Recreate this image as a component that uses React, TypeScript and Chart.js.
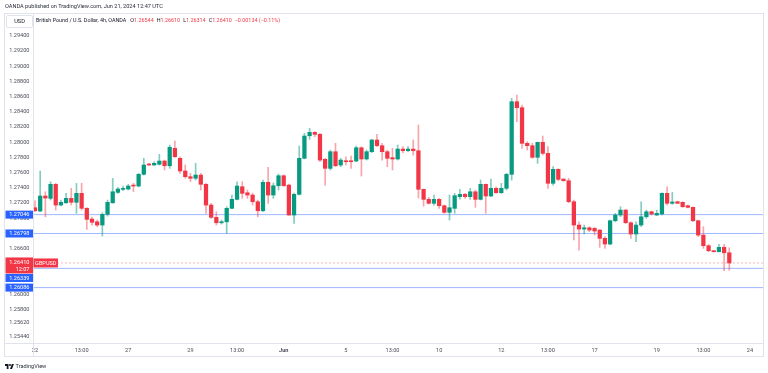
import React, { useEffect, useRef } from "react";
import { Chart, registerables } from "chart.js";
Chart.register(...registerables);

// ---- data (GBPUSD 4h, OANDA) ----
const OPEN = [
  1.27137, 1.27093, 1.27291, 1.2726, 1.27445, 1.27172, 1.27202, 1.2726, 1.27208, 1.27326,
  1.27129, 1.26988, 1.26952, 1.26909, 1.2705, 1.27202, 1.27339, 1.27379, 1.27383, 1.27435,
  1.27422, 1.27576, 1.27708, 1.27699, 1.27708, 1.27751, 1.27689, 1.27918, 1.27787, 1.2762,
  1.27545, 1.27524, 1.27567, 1.27445, 1.27172, 1.2701, 1.26939, 1.26952, 1.27129, 1.27247,
  1.27413, 1.27334, 1.27304, 1.27216, 1.27097, 1.27471, 1.27304, 1.27426, 1.27558, 1.27435,
  1.27041, 1.27313, 1.27787, 1.28084, 1.28129, 1.28102, 1.27774, 1.27655, 1.27874, 1.27699,
  1.27755, 1.27755, 1.27751, 1.27926, 1.27778, 1.27874, 1.28028, 1.27953, 1.27874, 1.27795,
  1.27778, 1.27909, 1.27887, 1.27909, 1.27887, 1.27379, 1.27247, 1.27195, 1.27247, 1.27163,
  1.27076, 1.27129, 1.27282, 1.27313, 1.27282, 1.27347, 1.27247, 1.27445, 1.27291, 1.27392,
  1.27334, 1.27392, 1.27576, 1.28532, 1.28453, 1.27984, 1.27953, 1.278, 1.27997, 1.27852,
  1.27458, 1.27642, 1.27514, 1.27492, 1.27216, 1.26909, 1.26856, 1.26873, 1.26865, 1.26843,
  1.26734, 1.26659, 1.26966, 1.27041, 1.27106, 1.26939, 1.26791, 1.26909, 1.27018, 1.27084,
  1.27041, 1.27054, 1.27326, 1.27195, 1.27216, 1.27208, 1.27163, 1.27142, 1.26966, 1.26777,
  1.26637, 1.26571, 1.26558, 1.26616, 1.26544,
];
const HIGH = [
  1.27229, 1.2762, 1.27347, 1.27479, 1.27458, 1.27238, 1.27326, 1.27392, 1.27458, 1.27458,
  1.2714, 1.27014, 1.26975, 1.27071, 1.27238, 1.27524, 1.27405, 1.27422, 1.27445, 1.27458,
  1.27589, 1.27787, 1.27721, 1.27742, 1.27839, 1.27764, 1.27962, 1.28014, 1.27808, 1.27699,
  1.27589, 1.27721, 1.27589, 1.27458, 1.27195, 1.27084, 1.26975, 1.2715, 1.27304, 1.27479,
  1.27479, 1.2737, 1.2733, 1.27238, 1.27501, 1.27668, 1.27462, 1.2758, 1.27567, 1.27449,
  1.2733, 1.27949, 1.28116, 1.28182, 1.28137, 1.28116, 1.27787, 1.27896, 1.27984, 1.27787,
  1.27808, 1.27817, 1.27949, 1.2794, 1.27896, 1.28037, 1.28102, 1.27984, 1.27896, 1.27918,
  1.27962, 1.2794, 1.2794, 1.28028, 1.28225, 1.27383, 1.27273, 1.27304, 1.2726, 1.27172,
  1.27304, 1.27326, 1.27379, 1.27326, 1.27392, 1.2737, 1.27501, 1.2745, 1.27514, 1.27413,
  1.27458, 1.27589, 1.28576, 1.2862, 1.28488, 1.28006, 1.27984, 1.28, 1.2808, 1.2794,
  1.27677, 1.2765, 1.27518, 1.27524, 1.27238, 1.26952, 1.26909, 1.26887, 1.26878, 1.2685,
  1.26756, 1.26975, 1.27063, 1.2715, 1.27115, 1.26952, 1.26952, 1.27216, 1.27106, 1.27093,
  1.27106, 1.27334, 1.27413, 1.27339, 1.27222, 1.27216, 1.27172, 1.2715, 1.26975, 1.26887,
  1.26655, 1.26576, 1.26655, 1.26655, 1.2661,
];
const LOW = [
  1.27084, 1.27084, 1.27018, 1.27238, 1.27106, 1.2716, 1.27195, 1.27172, 1.27063, 1.27106,
  1.26852, 1.26909, 1.26887, 1.26764, 1.27027, 1.27195, 1.27326, 1.2736, 1.2737, 1.27347,
  1.2741, 1.27567, 1.2769, 1.27692, 1.27699, 1.27633, 1.27655, 1.278, 1.27589, 1.27524,
  1.27479, 1.27501, 1.2737, 1.27063, 1.26997, 1.26909, 1.26922, 1.268, 1.2712, 1.27238,
  1.2726, 1.2726, 1.27172, 1.27018, 1.27084, 1.27195, 1.2726, 1.2737, 1.27422, 1.27034,
  1.26931, 1.27304, 1.2778, 1.28037, 1.28071, 1.27742, 1.27435, 1.27633, 1.27677, 1.27677,
  1.27699, 1.27655, 1.27742, 1.27554, 1.27764, 1.27861, 1.2794, 1.27764, 1.27677, 1.27633,
  1.27764, 1.27861, 1.27874, 1.2783, 1.27264, 1.27159, 1.27186, 1.27172, 1.27129, 1.27063,
  1.26975, 1.27063, 1.27251, 1.2726, 1.27247, 1.27142, 1.27238, 1.27063, 1.27282, 1.27326,
  1.27326, 1.2737, 1.27501, 1.28268, 1.27918, 1.27896, 1.27787, 1.27721, 1.2783, 1.27392,
  1.27435, 1.27492, 1.27488, 1.27202, 1.26712, 1.2658, 1.26791, 1.26821, 1.26777, 1.26616,
  1.26602, 1.26646, 1.26952, 1.27018, 1.26931, 1.26734, 1.26689, 1.26887, 1.26997, 1.27041,
  1.27034, 1.27041, 1.27172, 1.27181, 1.2719, 1.27142, 1.27135, 1.26952, 1.26756, 1.26602,
  1.26558, 1.26554, 1.26554, 1.26308, 1.26314,
];
const CLOSE = [
  1.27097, 1.27291, 1.27264, 1.27445, 1.27172, 1.27208, 1.2726, 1.27208, 1.27326, 1.27129,
  1.26984, 1.26945, 1.26909, 1.2705, 1.27208, 1.27347, 1.27383, 1.27392, 1.27422, 1.27422,
  1.27576, 1.27699, 1.27699, 1.27721, 1.27751, 1.27689, 1.27932, 1.27808, 1.2762, 1.27545,
  1.27524, 1.27567, 1.27445, 1.27172, 1.2701, 1.26939, 1.26952, 1.27129, 1.27247, 1.27422,
  1.27326, 1.27304, 1.27216, 1.27097, 1.27471, 1.27304, 1.27426, 1.27558, 1.27426, 1.27041,
  1.27313, 1.27787, 1.2808, 1.28129, 1.28102, 1.27764, 1.27655, 1.27874, 1.27689, 1.27764,
  1.27742, 1.27742, 1.27926, 1.27778, 1.27874, 1.28028, 1.27953, 1.27874, 1.27787, 1.27778,
  1.27909, 1.27887, 1.27909, 1.27887, 1.27379, 1.27247, 1.27195, 1.27247, 1.27163, 1.27076,
  1.27137, 1.27295, 1.27313, 1.27282, 1.27347, 1.27247, 1.27445, 1.27291, 1.27392, 1.27334,
  1.27392, 1.27576, 1.28532, 1.28453, 1.27984, 1.27953, 1.278, 1.27997, 1.27852, 1.27458,
  1.27642, 1.2751, 1.27492, 1.27216, 1.26909, 1.26856, 1.26873, 1.26843, 1.2683, 1.26734,
  1.26659, 1.26966, 1.27041, 1.27106, 1.26939, 1.26791, 1.26909, 1.27018, 1.27084, 1.27054,
  1.27063, 1.27326, 1.27195, 1.27212, 1.27195, 1.2715, 1.27142, 1.26966, 1.26777, 1.26637,
  1.26571, 1.26558, 1.26616, 1.26544, 1.2641,
];

// time axis: bar index of each label (bar 0 = May 22 01:00, 6 bars per trading day)
const TIME_TICKS = [0, 9, 18, 30, 39, 48, 60, 69, 78, 90, 99, 108, 120, 129, 138];
const TIME_LABELS = ["22", "13:00", "27", "29", "13:00", "Jun", "5", "13:00", "10", "12", "13:00", "17", "19", "13:00", "24"];

// price axis tick labels
const PRICE_TICKS = [
  1.294, 1.292, 1.29, 1.288, 1.286, 1.284, 1.282, 1.28, 1.278, 1.276, 1.274, 1.272,
  1.27, 1.268, 1.266, 1.264, 1.262, 1.26, 1.258, 1.2562, 1.2544,
];

// legend values
const LEGEND_TITLE = "British Pound / U.S. Dollar, 4h, OANDA";
const LEGEND_OHLC = [
  ["O", "1.26544"],
  ["H", "1.26610"],
  ["L", "1.26314"],
  ["C", "1.26410"],
];
const LEGEND_CHANGE = "−0.00134 (−0.11%)";

// horizontal levels drawn on the chart
const LEVELS = [1.27046, 1.26798, 1.26339, 1.26086];
const LAST_PRICE = 1.2641;
const COUNTDOWN = "12:07";
const SYMBOL = "GBPUSD";

const X_MIN = -0.386;
const X_MAX = 140.7;
const Y_MIN = 1.25357;
const Y_MAX = 1.29699;

const GREEN = "#089981";
const RED = "#F23645";
const BLUE = "#2962FF";
const AXIS_TEXT = "#4a4e59";
const FONT = "Roboto, 'Liberation Sans', sans-serif";

const overlayPlugin = {
  id: "tvOverlay",
  beforeDraw(chart: any) {
    const { ctx, width, height } = chart;
    ctx.save();
    ctx.fillStyle = "#ffffff";
    ctx.fillRect(0, 0, width, height);
    ctx.restore();
  },
  afterDraw(chart: any) {
    const { ctx, chartArea: a, scales } = chart;
    const y = scales.y;
    ctx.save();
    // frame
    ctx.strokeStyle = "#E0E3EB";
    ctx.lineWidth = 1;
    ctx.strokeRect(4.5, 13.5, 759, 343);
    ctx.beginPath();
    ctx.moveTo(a.left + 0.5, 13);
    ctx.lineTo(a.left + 0.5, 357);
    ctx.moveTo(4, a.bottom + 0.5);
    ctx.lineTo(764, a.bottom + 0.5);
    ctx.stroke();

    // price-axis labels
    const items: any[] = LEVELS.map((v) => ({ v, kind: "level", h: 8, off: 4 }));
    items.push({ v: LAST_PRICE, kind: "last", h: 16, off: 5.5 });
    items.forEach((it) => (it.top = y.getPixelForValue(it.v) - it.off));
    items.sort((p, q) => p.top - q.top);
    let prevBottom = -1e9;
    for (const it of items) {
      if (it.top < prevBottom) it.top = prevBottom + 0.5;
      prevBottom = it.top + it.h;
    }
    const boxL = 5.5;
    const boxR = a.left;
    ctx.font = `5.6px ${FONT}`;
    ctx.textAlign = "right";
    ctx.textBaseline = "middle";
    for (const it of items) {
      ctx.fillStyle = it.kind === "last" ? RED : BLUE;
      ctx.fillRect(boxL, it.top, boxR - boxL, it.h);
      ctx.fillStyle = "#ffffff";
      if (it.kind === "last") {
        ctx.fillText(it.v.toFixed(5), 29.5, it.top + 5.5);
        ctx.fillText(COUNTDOWN, 29.5, it.top + 11.8);
      } else {
        ctx.fillText(it.v.toFixed(5), 29.5, it.top + it.h / 2 + 0.3);
      }
    }
    // symbol label
    const yl = y.getPixelForValue(LAST_PRICE);
    ctx.fillStyle = RED;
    ctx.fillRect(a.left + 0.5, yl - 4.5, 24.5, 9);
    ctx.fillStyle = "#ffffff";
    ctx.textAlign = "center";
    ctx.fillText(SYMBOL, a.left + 12.8, yl + 0.3);
    ctx.restore();
  },
};

export default function App() {
  const ref = useRef<HTMLCanvasElement>(null);

  useEffect(() => {
    const idx = OPEN.map((_, i) => i);
    const up = idx.map((i) => CLOSE[i] >= OPEN[i]);
    const bodies = idx.map((i) => ({ x: i, y: [OPEN[i], CLOSE[i]] }));
    const wicks = idx.map((i) => ({ x: i, y: [LOW[i], HIGH[i]] }));

    const levelSets: any[] = LEVELS.map((v) => ({
      type: "line",
      data: [
        { x: X_MIN, y: v },
        { x: X_MAX, y: v },
      ],
      borderColor: "rgba(41,98,255,0.45)",
      borderWidth: 1,
      pointRadius: 0,
      order: 3,
    }));
    levelSets.push({
      type: "line",
      data: [
        { x: X_MIN, y: LAST_PRICE },
        { x: X_MAX, y: LAST_PRICE },
      ],
      borderColor: "rgba(242,54,69,0.35)",
      borderWidth: 1,
      borderDash: [2, 2],
      pointRadius: 0,
      order: 3,
    });

    const chart = new Chart(ref.current as HTMLCanvasElement, {
      type: "bar",
      data: {
        datasets: [
          ...levelSets,
          {
            type: "bar",
            data: wicks as any,
            backgroundColor: up.map((u) => (u ? "rgba(8,153,129,0.5)" : "rgba(242,54,69,0.45)")),
            barThickness: 1,
            grouped: false,
            borderWidth: 0,
            order: 2,
          },
          {
            type: "bar",
            data: bodies as any,
            backgroundColor: up.map((u) => (u ? GREEN : RED)),
            barThickness: 3.6,
            minBarLength: 1,
            grouped: false,
            borderWidth: 0,
            order: 1,
          },
        ],
      },
      options: {
        responsive: false,
        maintainAspectRatio: false,
        animation: false,
        devicePixelRatio: 1,
        events: [],
        layout: { padding: { left: 4, right: 4, top: 13, bottom: 16 } },
        plugins: { legend: { display: false }, tooltip: { enabled: false } },
        scales: {
          x: {
            type: "linear",
            min: X_MIN,
            max: X_MAX,
            offset: false,
            grid: { display: false, drawTicks: false },
            border: { display: false },
            afterBuildTicks: (s: any) => {
              s.ticks = TIME_TICKS.map((v) => ({ value: v }));
            },
            afterFit: (s: any) => {
              s.height = 14;
            },
            ticks: {
              autoSkip: false,
              maxRotation: 0,
              padding: 4,
              color: AXIS_TEXT,
              font: (c: any) => ({
                size: 5.6,
                family: FONT,
                weight: TIME_LABELS[c.index] === "Jun" ? "bold" : "normal",
              }),
              callback: (_v: any, i: number) => TIME_LABELS[i],
            },
          },
          y: {
            type: "linear",
            position: "left",
            min: Y_MIN,
            max: Y_MAX,
            grid: { display: false, drawTicks: false },
            border: { display: false },
            afterBuildTicks: (s: any) => {
              s.ticks = PRICE_TICKS.map((v) => ({ value: v }));
            },
            afterFit: (s: any) => {
              s.width = 29;
            },
            ticks: {
              autoSkip: false,
              padding: 3.5,
              color: AXIS_TEXT,
              font: { size: 5.6, family: FONT },
              callback: (v: any) => Number(v).toFixed(5),
            },
          },
        },
      },
      plugins: [overlayPlugin],
    } as any);
    return () => chart.destroy();
  }, []);

  const base: React.CSSProperties = {
    position: "absolute",
    fontFamily: FONT,
    fontSize: 5.6,
    lineHeight: "8px",
    whiteSpace: "nowrap",
    color: "#131722",
  };
  const red: React.CSSProperties = { color: RED };

  return (
    <div
      style={{
        position: "fixed",
        left: 0,
        top: 0,
        width: 768,
        height: 373,
        background: "#ffffff",
        overflow: "hidden",
      }}
    >
      <canvas
        ref={ref}
        width={768}
        height={373}
        style={{ position: "absolute", left: 0, top: 0, width: 768, height: 373 }}
      />
      <div style={{ ...base, left: 5, top: 2, color: "#2a2e39" }}>
        OANDA published on TradingView.com, Jun 21, 2024 12:47 UTC
      </div>
      <div
        style={{
          ...base,
          left: 6,
          top: 14.5,
          width: 25,
          height: 11.5,
          lineHeight: "11.5px",
          textAlign: "center",
          border: "1px solid #E0E3EB",
          borderRadius: 2,
          background: "#fff",
        }}
      >
        USD
      </div>
      <div style={{ ...base, left: 36, top: 16, display: "flex", gap: 3, fontSize: 5.4 }}>
        <span style={{ marginRight: 1 }}>{LEGEND_TITLE}</span>
        {LEGEND_OHLC.map(([k, v]) => (
          <span key={k}>
            {k}
            <span style={red}>{v}</span>
          </span>
        ))}
        <span style={red}>{LEGEND_CHANGE}</span>
      </div>
      <svg
        style={{ position: "absolute", left: 5, top: 363 }}
        width={9}
        height={7}
        viewBox="0 0 36 28"
      >
        <path d="M14 24H7V12H0V4h14v20z M28 24h-8l7.5-20h8L28 24z" fill="#131722" />
        <circle cx="20" cy="8" r="4" fill="#131722" />
      </svg>
      <div style={{ ...base, left: 15.5, top: 362, color: "#2a2e39" }}>TradingView</div>
    </div>
  );
}
